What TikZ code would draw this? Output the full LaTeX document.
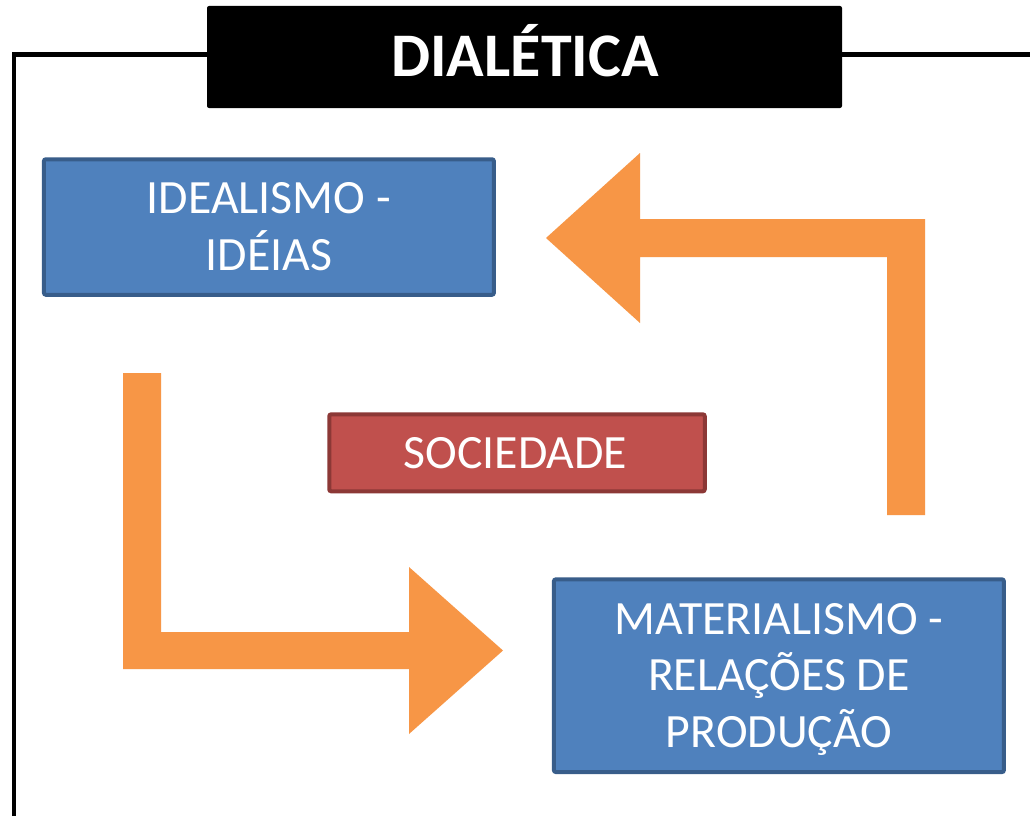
\documentclass[tikz,border=0pt]{standalone}
\usepackage{fontspec}
\setmainfont{Carlito}
\definecolor{boxblue}{HTML}{4F81BD}
\definecolor{boxblueline}{HTML}{385D8A}
\definecolor{boxred}{HTML}{C0504D}
\definecolor{boxredline}{HTML}{8C3836}
\definecolor{arroworange}{HTML}{F79646}
\tikzset{
  bluebox/.style={draw=boxblueline, fill=boxblue, line width=4pt, rounded corners=2pt},
  redbox/.style={draw=boxredline, fill=boxred, line width=4pt, rounded corners=2pt},
  boxtext/.style={anchor=base, inner sep=0pt, text=white, font=\fontsize{47.8}{57}\selectfont},
  bigarrow/.style={fill=arroworange, draw=none},
  framepen/.style={draw=black, line width=4.5pt, line join=miter}
}
\begin{document}
\begin{tikzpicture}[x=1pt,y=-1pt]
\useasboundingbox (0,0) rectangle (1030,816);
\fill[white] (0,0) rectangle (1030,816);

% frame
\coordinate (fb) at (14,816);
\coordinate (fc) at (14,54.5);
\coordinate (fr) at (1030,54.5);
\draw[framepen] (fb) -- (fc) -- (fr);

% title
\node[fill=black, rounded corners=2pt, minimum width=635pt, minimum height=102pt, inner sep=0pt] (title) at (524.5,57) {};
\node[anchor=base, inner sep=0pt, text=white, font=\bfseries\fontsize{62}{70}\selectfont] (titletext) at (525,77) {DIALÉTICA};

% arrows
\fill[bigarrow] (546,238) -- (640,153) -- (640,219) -- (925,219) -- (925,515)
  -- (887,515) -- (887,257) -- (640,257) -- (640,323) -- cycle;
\fill[bigarrow] (123,373) -- (161,373) -- (161,632) -- (409,632) -- (409,567)
  -- (503,650.5) -- (409,734) -- (409,669) -- (123,669) -- cycle;

% boxes
\node[bluebox, minimum width=450pt, minimum height=135.5pt, inner sep=0pt] (ideal) at (268.9,227) {};
\node[boxtext] (ideal1) at (268.9,213.3) {IDEALISMO -};
\node[boxtext] (ideal2) at (268.9,270.3) {IDÉIAS};

\node[redbox, minimum width=375.5pt, minimum height=77pt, inner sep=0pt] (soc) at (517,452.8) {};
\node[boxtext] (soctext) at (515.5,468.3) {SOCIEDADE};

\node[bluebox, minimum width=450pt, minimum height=192.7pt, inner sep=0pt] (mat) at (778.9,675.7) {};
\node[boxtext] (mat1) at (778.9,634) {MATERIALISMO -};
\node[boxtext] (mat2) at (778.9,690.7) {RELAÇÕES DE};
\node[boxtext] (mat3) at (778.9,747.3) {PRODUÇÃO};
\end{tikzpicture}
\end{document}
